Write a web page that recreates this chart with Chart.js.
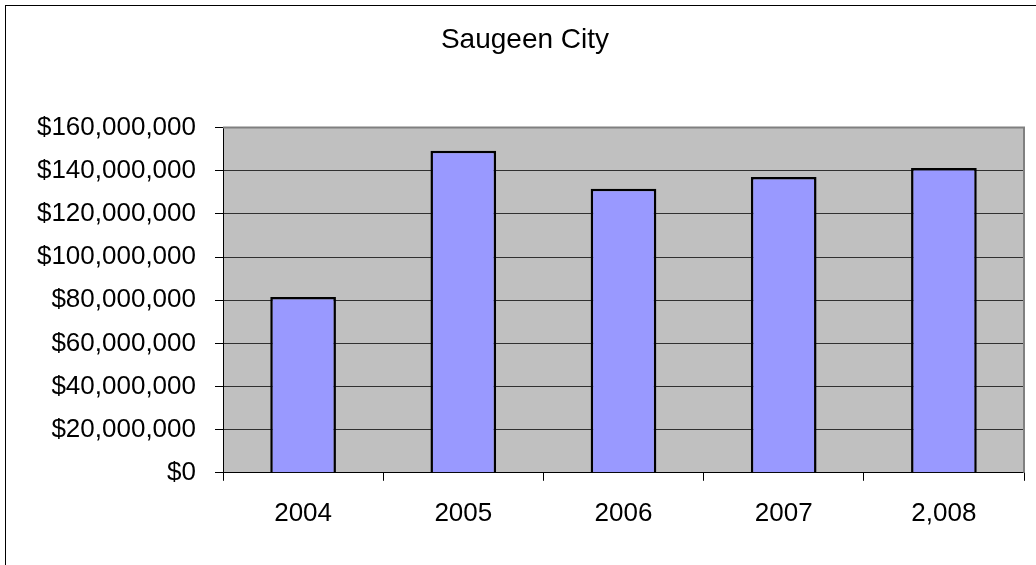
<!DOCTYPE html>
<html>
<head>
<meta charset="utf-8">
<script src="https://cdn.jsdelivr.net/npm/chart.js@4/dist/chart.umd.min.js"></script>
<style>
    body { margin: 0; background: #fff; }
    canvas { display: block; }
</style>
</head>
<body>
<canvas id="chart" width="1036" height="565"></canvas>
<script>
const years = ['2004', '2005', '2006', '2007', '2,008'];
const values = [81500000, 149300000, 131600000, 137100000, 141300000];
const yTicks = [0, 20000000, 40000000, 60000000, 80000000, 100000000, 120000000, 140000000, 160000000];

const font = "'Liberation Sans', Arial, sans-serif";

// grey plot area, grey top/right edge, outer frame
const frame = {
    id: 'frame',
    beforeDraw(chart) {
        const ctx = chart.ctx;
        const a = chart.chartArea;
        ctx.save();
        ctx.fillStyle = '#ffffff';
        ctx.fillRect(0, 0, chart.width, chart.height);
        ctx.fillStyle = '#c0c0c0';
        ctx.fillRect(a.left, a.top, a.right - a.left, a.bottom - a.top);
        ctx.restore();
    },
    afterDraw(chart) {
        const ctx = chart.ctx;
        const a = chart.chartArea;
        ctx.save();
        ctx.strokeStyle = '#808080';
        ctx.lineWidth = 2;
        ctx.beginPath();
        ctx.moveTo(a.left, a.top);
        ctx.lineTo(a.right, a.top);
        ctx.lineTo(a.right, a.bottom);
        ctx.stroke();
        ctx.strokeStyle = '#000000';
        ctx.lineWidth = 1;
        ctx.strokeRect(5.5, 5.5, 1040, 600);
        ctx.restore();
    }
};

new Chart(document.getElementById('chart'), {
    type: 'bar',
    data: {
        labels: years,
        datasets: [{
            data: values,
            backgroundColor: '#9999ff',
            borderColor: '#000000',
            borderWidth: 2.5,
            barPercentage: 0.41,
            categoryPercentage: 1
        }]
    },
    options: {
        responsive: false,
        animation: false,
        layout: {
            padding: {top: 8, left: 26, right: 12, bottom: 19}
        },
        plugins: {
            legend: {display: false},
            tooltip: {enabled: false},
            title: {
                display: true,
                text: 'Saugeen City',
                color: '#000',
                font: {family: font, size: 28, weight: 'normal'},
                padding: {top: 15, bottom: 71}
            }
        },
        scales: {
            x: {
                grid: {
                    offset: true,
                    drawOnChartArea: false,
                    drawTicks: true,
                    tickLength: 8,
                    tickColor: '#000'
                },
                border: {color: '#000', width: 1},
                ticks: {
                    color: '#000',
                    font: {family: font, size: 26},
                    padding: 17,
                    maxRotation: 0
                }
            },
            y: {
                min: 0,
                max: 160000000,
                afterFit(scale) {
                    scale.width = 197;
                },
                afterBuildTicks(scale) {
                    scale.ticks = yTicks.map(v => ({value: v}));
                },
                grid: {
                    color: '#303030',
                    lineWidth: 1,
                    tickLength: 8,
                    tickColor: '#000'
                },
                border: {color: '#000', width: 1},
                ticks: {
                    color: '#000',
                    font: {family: font, size: 26},
                    padding: 19,
                    callback: v => '$' + v.toLocaleString('en-US')
                }
            }
        }
    },
    plugins: [frame]
});
</script>
</body>
</html>
